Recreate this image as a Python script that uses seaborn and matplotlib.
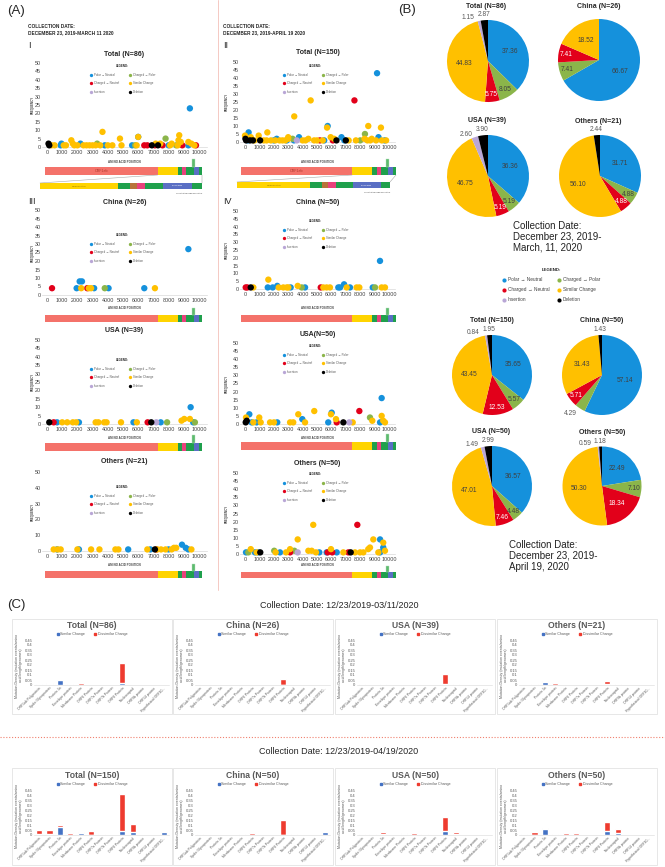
import numpy as np
import pandas as pd
import seaborn as sns
import matplotlib.pyplot as plt
from matplotlib.lines import Line2D
from matplotlib.patches import Patch, Rectangle, ConnectionPatch

sns.set_theme(style='white')
plt.rcParams['font.family'] = ['Liberation Sans', 'DejaVu Sans']

W, H = 665, 867

# mutation classes (legend order: column 1 then column 2)
class_codes = ['P', 'R', 'L', 'G', 'Y', 'K']
class_names = ['Polar → Neutral', 'Charged → Neutral', 'Insertion',
               'Charged → Polar', 'Similar Change', 'Deletion']
class_colors = ['#1591DC', '#E2001A', '#B9A6D6', '#8BB54A', '#FFC000', '#000000']
draw_rank = {'P': 0, 'G': 1, 'R': 2, 'Y': 3, 'L': 4, 'K': 5}

# ---- panel A: mutation frequency vs amino acid position ----
total86_pos = [100, 150, 300, 500, 900, 950, 1100, 1250, 1600, 1700, 1800, 2000, 2200, 2400, 2600, 2800,
               3000, 3200, 3300, 3500, 3650, 3800, 4000, 4300, 4800, 4900, 5600, 5800, 5900, 6000, 6000,
               6400, 6600, 6900, 7100, 7150, 7300, 7450, 7600, 7800, 8000, 8100, 8200, 8500, 8600, 8650,
               8700, 8800, 8900, 9300, 9300, 9400, 9500, 9700, 9800]
total86_freq = [2, 1, 1, 1, 1, 2, 1, 1, 4, 2, 1, 1, 2, 1, 1, 1, 1, 1, 2, 1, 9, 1, 1, 1, 5, 1, 1, 1, 1, 6, 6,
                1, 1, 1, 1, 2, 1, 2, 1, 5, 1, 1, 2, 1, 1, 4, 7, 3, 1, 1, 3, 23, 2, 1, 1]
total86_type = 'KKYYPPYYYYYYPYYYYYGYYPYYYYPGYPYRRKRYKYRGPYYGYYYYRPYPYYR'

china26_pos = [330, 1950, 2150, 2300, 2250, 2650, 2750, 2900, 3100, 3800, 4050, 6400, 7100, 9300]
china26_freq = [4, 4, 8, 8, 4, 4, 4, 4, 4, 4, 4, 4, 4, 27]
china26_type = 'RPPPYRYYPGPPYP'

usa39_pos = [150, 440, 660, 1000, 1330, 1700, 1920, 2100, 3200, 3380, 3760, 3920, 4870, 5690, 5910, 6620,
             6860, 7190, 7480, 7900, 8850, 9030, 9400, 9620, 9730, 9450]
usa39_freq = [1, 1, 1, 1, 1, 1, 1, 1, 1, 1, 1, 1, 1, 1, 1, 1, 1, 1, 1, 1, 2, 3, 3, 1, 1, 10]
usa39_type = 'KRPYYYYPYYYYYPYRKLPGYYYPGP'

others21_pos = [440, 660, 700, 900, 2000, 2100, 2900, 3450, 4500, 4700, 5340, 6600, 6800, 7100, 7200, 7250,
                7500, 7800, 8000, 8200, 8350, 8500, 8880, 9130, 9300, 9500]
others21_freq = [1, 1, 1, 1, 1, 1, 1, 1, 1, 1, 1, 1, 1, 1, 1, 1, 1, 1, 1, 1, 2, 2, 4, 2, 1, 1]
others21_type = 'YPYYYPYYYYPYPKRYYYPYYYPPPY'

total150_pos = [0, 30, 80, 200, 250, 350, 400, 550, 650, 950, 1050, 1300, 1500, 1550, 1800, 2000, 2100,
                2200, 2400, 2600, 2800, 2900, 3000, 3000, 3300, 3400, 3420, 3600, 3750, 4000, 4200, 4400,
                4560, 4800, 5000, 5200, 5400, 5500, 5740, 5700, 5950, 6100, 6200, 6350, 6700, 6900, 7000,
                7200, 7600, 7700, 8000, 8330, 8300, 8560, 8500, 8700, 8800, 9170, 9100, 9270, 9440, 9500,
                9700, 9800]
total150_freq = [4, 2, 1, 1, 6, 1, 3, 1, 1, 4, 1, 1, 1, 6, 1, 1, 1, 2, 1, 1, 1, 1, 2, 3, 2, 1, 16, 1, 3, 1,
                 1, 2, 26, 1, 1, 1, 1, 1, 10, 9, 3, 1, 2, 1, 3, 1, 1, 1, 26, 1, 1, 5, 2, 10, 1, 1, 2, 43,
                 1, 3, 9, 1, 1, 1]
total150_type = 'YKKPPKYKYYKYYYYPYPYYYPYYGPYLPYYYYYYRYPPYYRYKPPKYRYGGYYYYYPYPYYPY'

china50_pos = [50, 160, 400, 580, 1620, 1580, 1920, 2240, 2340, 2660, 2900, 3010, 3170, 3660, 3940, 4170,
               5260, 5440, 5670, 5900, 6480, 6600, 6880, 7060, 7290, 7750, 7940, 8870, 9030, 9490, 9720, 9375]
china50_freq = [1, 1, 1, 1, 6, 1, 1, 2, 1, 1, 1, 1, 1, 2, 1, 1, 1, 1, 1, 1, 1, 1, 3, 1, 1, 1, 1, 1, 1, 1, 1, 18]
china50_type = 'RRKYYPPPYYYYPYGPRYYYPPPYPYYPGYYP'

usa50_pos = [70, 300, 990, 3700, 3980, 4810, 6020, 5970, 120, 50, 460, 580, 810, 1090, 1740, 2010, 2240,
             3130, 3350, 4170, 5780, 6320, 6370, 6830, 7240, 7480, 7940, 8680, 8840, 9380, 9490, 9490,
             9720, 9600]
usa50_freq = [4, 6, 4, 6, 3, 8, 7, 6, 2, 1, 1, 1, 1, 1, 1, 1, 1, 1, 1, 1, 1, 3, 1, 1, 1, 1, 8, 4, 2, 1, 16,
              5, 1, 2]
usa50_type = 'YPYYPYPYKKPYPYYYPYYYPYRKLYRGYPPYYY'

others50_pos = [70, 230, 400, 690, 810, 920, 1060, 2030, 2130, 2430, 2850, 3130, 3130, 3430, 3660, 3660,
                4400, 4630, 4740, 4930, 5160, 5670, 5740, 6060, 5970, 6370, 6830, 7180, 7340, 7640, 7800,
                7990, 8220, 8560, 8680, 8910, 9260, 9380, 9380, 9600, 9600, 9720]
others50_freq = [1, 1, 3, 1, 1, 1, 1, 2, 1, 1, 1, 1, 3, 2, 9, 1, 2, 2, 18, 1, 1, 1, 1, 1, 3, 1, 1, 1, 1, 1,
                 18, 1, 1, 3, 4, 9, 1, 9, 1, 7, 4, 2]
others50_type = 'PGYPYPKGYPYRYGYLYYYYPPRRYPYRKYRYYYYYYPPYPY'

# genome map under each scatter
genome_parts = ['ORF1ab', 'S', 'ORF3a', 'E/M', 'ORF6-8', 'N', 'ORF10']
genome_len = [7096, 1273, 300, 250, 450, 360, 170]
genome_colors = ['#F4726A', '#FFD400', '#1FA04C', '#E8417C', '#1FA04C', '#5A6FC4', '#1FA04C']
marker_pos = 9350
zoom_parts = ['Spike Protein', 'ORF3a', 'E', 'M', 'ORF6', 'ORF7', 'Nucleocapsid', 'ORF10']
zoom_len = [1273, 200, 115, 130, 150, 150, 475, 165]
zoom_colors = ['#FFD400', '#1FA04C', '#B8733A', '#E8417C', '#1FA04C', '#1FA04C', '#5A6FC4', '#1FA04C']

# ---- panel B: pie shares (%) ----
pie_colors = ['#1591DC', '#8BB54A', '#E2001A', '#FFC000', '#B9A6D6', '#000000']
pie_total86 = [37.36, 8.05, 5.75, 44.83, 1.15, 2.87]
pie_china26 = [66.67, 7.41, 7.41, 18.52, 0, 0]
pie_usa39 = [36.36, 5.19, 5.19, 46.75, 2.60, 3.90]
pie_others21 = [31.71, 4.88, 4.88, 56.10, 0, 2.44]
pie_total150 = [35.65, 5.57, 12.53, 43.45, 0.84, 1.95]
pie_china50 = [57.14, 4.29, 5.71, 31.43, 0, 1.43]
pie_usa50 = [36.57, 4.48, 7.46, 47.01, 1.49, 2.99]
pie_others50 = [22.49, 7.10, 18.34, 50.30, 0.59, 1.18]

# ---- panel C: mutation density per protein ----
bar_cats = ['ORF1ab Polyprotein', 'Spike Glycoprotein', 'Protein 3a', 'Envelope protein',
            'Membrane Protein', 'ORF6 Protein', 'ORF7a Protein', 'ORF7b Protein', 'ORF8 Protein',
            'Nucleocapsid', 'ORF9b protein', 'ORF14 protein', 'Hypothetical ORF10...']
t86_sim = [0.006, 0.008, 0.048, 0.004, 0.002, 0, 0, 0, 0.025, 0, 0, 0, 0]
t86_dis = [0.008, 0.013, 0.005, 0.010, 0.016, 0, 0, 0, 0.197, 0, 0, 0, 0]
c26_sim = [0, 0, 0, 0, 0, 0, 0, 0, 0, 0, 0, 0, 0]
c26_dis = [0.003, 0, 0, 0, 0, 0, 0, 0, 0.057, 0.004, 0, 0, 0]
u39_sim = [0.002, 0, 0.006, 0, 0, 0, 0, 0, 0.012, 0, 0, 0, 0]
u39_dis = [0.006, 0.003, 0, 0, 0, 0, 0, 0, 0.102, 0.012, 0, 0, 0]
o21_sim = [0.002, 0, 0.035, 0, 0, 0, 0, 0, 0.006, 0, 0, 0, 0]
o21_dis = [0.002, 0.008, 0.006, 0.016, 0, 0, 0, 0, 0.034, 0.006, 0, 0, 0]
t150_sim = [0.015, 0.012, 0.077, 0.003, 0.025, 0.005, 0, 0, 0.044, 0.035, 0, 0, 0.030]
t150_dis = [0.032, 0.035, 0.027, 0.017, 0.009, 0.035, 0.013, 0, 0.372, 0.082, 0, 0, 0.004]
c50_sim = [0, 0, 0.004, 0, 0, 0, 0, 0, 0, 0, 0, 0, 0.030]
c50_dis = [0.006, 0.004, 0, 0, 0.006, 0.023, 0, 0, 0.154, 0.006, 0, 0, 0.004]
u50_sim = [0.005, 0, 0.012, 0, 0.012, 0, 0, 0, 0.040, 0.015, 0, 0, 0]
u50_dis = [0.010, 0.008, 0.018, 0, 0.004, 0.023, 0.010, 0, 0.145, 0.019, 0, 0, 0]
o50_sim = [0.006, 0.005, 0.062, 0, 0.005, 0, 0, 0, 0.040, 0.020, 0, 0, 0]
o50_dis = [0.009, 0.025, 0.012, 0.015, 0.012, 0.020, 0, 0, 0.088, 0.040, 0, 0, 0]

SIM_BLUE = '#4472C4'
DIS_RED = '#EE3B2F'


def px_rect(x0, y0, x1, y1):
    return [x0 / W, 1 - y1 / H, (x1 - x0) / W, (y1 - y0) / H]


def ftext(x, y, s, **kw):
    return fig.text(x / W, 1 - y / H, s, **kw)


def class_handles(ms):
    return [Line2D([], [], marker='o', linestyle='', markersize=ms,
                   markerfacecolor=c, markeredgewidth=0) for c in class_colors]


fig = plt.figure(figsize=(W / 100, H / 100), dpi=100)
fig.patch.set_facecolor('white')

# background layer in pixel coordinates (frames and separators)
bg = fig.add_axes([0, 0, 1, 1])
bg.set_xlim(0, W)
bg.set_ylim(H, 0)
bg.axis('off')
bg.plot([218, 218], [0, 590], color='#F5C9C3', lw=0.7)
bg.plot([0, W], [737, 737], color='#F0806E', lw=0.8, linestyle=(0, (1, 1.6)))

# ---------------- panel A ----------------
ftext(7, 11, '(A)', fontsize=9.5, va='center', ha='left')
for x0, date in [(28, 'DECEMBER 23, 2019-MARCH 11 2020'), (223, 'DECEMBER 23, 2019-APRIL 19 2020')]:
    ftext(x0, 26, 'COLLECTION DATE:', fontsize=3.4, fontweight='bold', va='center')
    ftext(x0, 33, date, fontsize=3.4, fontweight='bold', va='center')
for x0, y0, s in [(28, 45, 'I'), (223, 45, 'II'), (28, 201, 'III'), (223, 201, 'IV')]:
    ftext(x0, y0, s, fontsize=6.5, va='center')

COLS = {'L': dict(zero=47, ppu=0.0152, x0=42, x1=207, gx0=45, gx1=202, ylab=33),
        'R': dict(zero=245, ppu=0.0144, x0=240, x1=395, gx0=241, gx1=396, ylab=227)}


def genome_bar(col, ytop, ybot, label=False):
    c = COLS[col]
    h = ybot - ytop
    ax = fig.add_axes(px_rect(c['gx0'], ytop - h - 1, c['gx1'], ybot))
    starts = np.concatenate([[0], np.cumsum(genome_len)[:-1]])
    ax.barh(0.5, genome_len, left=starts, height=1, color=genome_colors, linewidth=0)
    ax.bar(marker_pos, 1.05, bottom=1, width=190, color='#5DBB6E', edgecolor='#B5E0BF', linewidth=0.3)
    ax.set_xlim(0, sum(genome_len))
    ax.set_ylim(0, (2 * h + 1) / h)
    ax.axis('off')
    if label:
        ax.text(starts[0] + genome_len[0] / 2, 0.5, 'ORF1ab', ha='center', va='center',
                fontsize=2.6, color='#B03A2E')
    return ax, starts


def zoom_bar(top_ax, starts, x0, x1, ytop, ybot):
    ax = fig.add_axes(px_rect(x0, ytop, x1, ybot))
    zs = np.concatenate([[0], np.cumsum(zoom_len)[:-1]])
    ax.barh(0.5, zoom_len, left=zs, height=1, color=zoom_colors, linewidth=0)
    ax.set_xlim(0, sum(zoom_len))
    ax.set_ylim(0, 1)
    ax.axis('off')
    ax.text(zoom_len[0] / 2, 0.5, zoom_parts[0], ha='center', va='center', fontsize=1.6, color='#7A5C00')
    ax.text(zs[6] + zoom_len[6] / 2, 0.5, zoom_parts[6], ha='center', va='center', fontsize=1.4, color='white')
    ax.text(sum(zoom_len), -0.75, 'Hypothetical ORF10 Protein', ha='right', va='center', fontsize=1.5,
            color='#404040')
    for xa, xb in [(starts[1], 0), (sum(genome_len), sum(zoom_len))]:
        con = ConnectionPatch(xyA=(xa, 0), coordsA=top_ax.transData, xyB=(xb, 1),
                              coordsB=ax.transData, color='#A8A8A8', lw=0.4)
        fig.add_artist(con)


def scatter_panel(col, pos, freq, types, y50, y0, ystep, title, title_y, leg_y,
                  gtop, gbot, amino_y, big=False):
    c = COLS[col]
    k = (y0 - y50) / 50
    lo, hi = -2, 51
    top = y50 - (hi - 50) * k
    bot = y0 - lo * k
    ax = fig.add_axes(px_rect(c['x0'], top, c['x1'], bot))
    ax.patch.set_alpha(0)
    df = pd.DataFrame({'pos': pos, 'freq': freq, 'code': list(types)})
    df['rank'] = df['code'].map(draw_rank)
    df = df.sort_values('rank', kind='stable')
    df['type'] = df['code'].map(dict(zip(class_codes, class_names)))
    sns.scatterplot(data=df, x='pos', y='freq', hue='type', palette=dict(zip(class_names, class_colors)),
                    s=21, linewidth=0, legend=False, ax=ax, zorder=3)
    ax.set_xlim((c['x0'] - c['zero']) / c['ppu'], (c['x1'] - c['zero']) / c['ppu'])
    ax.set_ylim(lo, hi)
    ax.set_xticks(range(0, 10001, 1000))
    ax.set_yticks(range(0, 51, ystep))
    ax.set_xlabel('')
    ax.set_ylabel('')
    for s in ['top', 'right', 'left']:
        ax.spines[s].set_visible(False)
    ax.spines['bottom'].set_position(('data', 0))
    ax.spines['bottom'].set_color('#D9D9D9')
    ax.spines['bottom'].set_linewidth(0.5)
    ax.tick_params(axis='both', length=0, labelsize=3.9, colors='#404040')
    ax.tick_params(axis='x', pad=2.2)
    ax.tick_params(axis='y', pad=1.0)
    ftext((c['x0'] + c['x1']) / 2, title_y, title, ha='center', va='center', fontsize=5, fontweight='bold')
    ftext(c['ylab'], (y50 + y0) / 2, 'FREQUENCY', rotation=90, ha='center', va='center',
          fontsize=2.1, fontweight='bold', color='#404040')
    ftext((c['x0'] + c['x1']) / 2, amino_y, 'AMINO ACID POSITION', ha='center', va='center',
          fontsize=2.1, fontweight='bold', color='#404040')
    lx = (c['x0'] + c['x1']) / 2 - 2
    ax.legend(class_handles(2.4), class_names, ncol=2, loc='upper center',
              bbox_to_anchor=(lx / W, 1 - (leg_y - 2) / H), bbox_transform=fig.transFigure,
              frameon=False, fontsize=2.1, labelcolor='#595959', title='LEGEND:',
              title_fontproperties={'weight': 'bold', 'size': 2.1}, handlelength=0.8,
              handletextpad=0.6, columnspacing=3.2, labelspacing=1.5, borderpad=0)
    gax, starts = genome_bar(col, gtop, gbot, label=big)
    if big:
        if col == 'L':
            zoom_bar(gax, starts, 40, 202, 183, 189)
        else:
            zoom_bar(gax, starts, 237, 390, 182, 188)


scatter_panel('L', total86_pos, total86_freq, total86_type, 63, 147, 5, 'Total (N=86)', 54, 65,
              167, 175, 162, big=True)
scatter_panel('L', china26_pos, china26_freq, china26_type, 210, 295, 5, 'China (N=26)', 202, 234,
              315, 322, 308)
scatter_panel('L', usa39_pos, usa39_freq, usa39_type, 340, 424, 5, 'USA (N=39)', 330, 359,
              443, 451, 438)
scatter_panel('L', others21_pos, others21_freq, others21_type, 472, 551, 10, 'Others (N=21)', 462, 486,
              571, 578, 565)
scatter_panel('R', total150_pos, total150_freq, total150_type, 62, 142, 5, 'Total (N=150)', 53, 65,
              167, 175, 162, big=True)
scatter_panel('R', china50_pos, china50_freq, china50_type, 211, 289, 5, 'China (N=50)', 203, 220,
              315, 322, 308)
scatter_panel('R', usa50_pos, usa50_freq, usa50_type, 343, 424, 5, 'USA(N=50)', 334, 345,
              442, 450, 438)
scatter_panel('R', others50_pos, others50_freq, others50_type, 473, 554, 5, 'Others (N=50)', 464, 473,
              572, 578, 565)

# ---------------- panel B ----------------
ftext(398, 10, '(B)', fontsize=9.5, va='center', ha='left')


def pie_panel(values, cx, cy, r, title, tx, ty):
    ax = fig.add_axes(px_rect(cx - r, cy - r, cx + r, cy + r))
    wedges, _ = ax.pie(values, colors=pie_colors, startangle=90, counterclock=False,
                       radius=1, wedgeprops=dict(linewidth=0))
    ax.set_xlim(-1, 1)
    ax.set_ylim(-1, 1)
    half_w = 6.8 / r  # half width of a small label, in radius units
    black_x = None
    mids = [np.deg2rad((w.theta1 + w.theta2) / 2) for w in wedges]
    if values[5] > 0:
        black_x = 1.16 * np.cos(mids[5])
    for w, mid, v, col in zip(wedges, mids, values, pie_colors):
        if v <= 0:
            continue
        cs, sn = np.cos(mid), np.sin(mid)
        if v < 4.4:
            x, y = 1.16 * cs, 1.16 * sn
            if col == '#B9A6D6':
                ha = 'right'
                x = (black_x - half_w - 0.06) if black_x is not None else x - 0.1
                y = y - 0.08
            elif col == '#000000':
                ha = 'center'
                y = 1.14 * sn
            else:
                ha = 'right' if cs < -0.15 else ('left' if cs > 0.15 else 'center')
            ax.text(x, y, f'{v:.2f}', ha=ha, va='center', fontsize=4.8, color='#595959')
        else:
            rr = 0.82 if v < 15 else 0.58
            tc = 'white' if col == '#E2001A' else '#404040'
            ax.text(rr * cs, rr * sn, f'{v:.2f}', ha='center', va='center', fontsize=4.8, color=tc)
    ftext(tx, ty, title, ha='center', va='center', fontsize=5, fontweight='bold')


pie_panel(pie_total86, 488, 61, 41, 'Total (N=86)', 486, 6)
pie_panel(pie_china26, 599, 60, 41, 'China (N=26)', 599, 6)
pie_panel(pie_usa39, 488, 176, 41, 'USA (N=39)', 487, 120)
pie_panel(pie_others21, 600, 176, 41, 'Others (N=21)', 598, 121)
pie_panel(pie_total150, 492, 375, 40, 'Total (N=150)', 492, 320)
pie_panel(pie_china50, 602, 375, 40, 'China (N=50)', 602, 320.5)
pie_panel(pie_usa50, 492, 486, 40, 'USA (N=50)', 491, 431.5)
pie_panel(pie_others50, 602, 486, 39.5, 'Others (N=50)', 602, 432)

ftext(513, 221, 'Collection Date:\nDecember 23, 2019-\nMarch, 11, 2020', fontsize=7, va='top',
      ha='left', linespacing=1.1, color='#222222')
ftext(509, 540, 'Collection Date:\nDecember 23, 2019-\nApril 19, 2020', fontsize=7, va='top',
      ha='left', linespacing=1.1, color='#222222')
fig.legend(class_handles(3.0), class_names, ncol=2, loc='upper center',
           bbox_to_anchor=(551 / W, 1 - 266 / H), frameon=False, fontsize=3.4, labelcolor='#404040',
           title='LEGEND:', title_fontproperties={'weight': 'bold', 'size': 3.2},
           handlelength=0.8, handletextpad=0.5, columnspacing=1.6, labelspacing=1.05, borderpad=0)

# ---------------- panel C ----------------
ftext(7, 605, '(C)', fontsize=9.5, va='center', ha='left')
ftext(339, 606, 'Collection Date: 12/23/2019-03/11/2020', fontsize=6.5, ha='center', va='center')
ftext(339, 751, 'Collection Date: 12/23/2019-04/19/2020', fontsize=6.5, ha='center', va='center')


def bar_panel(sim, dis, bx, by0, by1, y45, y0, title, title_y, leg_y):
    bg.add_patch(Rectangle((bx, by0), 160, by1 - by0, fill=False, edgecolor='#E3E3E3', lw=0.6))
    ax = fig.add_axes(px_rect(bx + 22, y45, bx + 157, y0))
    ax.patch.set_alpha(0)
    df = pd.DataFrame({'cat': bar_cats, 'sim': sim, 'tot': np.array(sim) + np.array(dis)})
    sns.barplot(data=df, x='cat', y='tot', color=DIS_RED, saturation=1, width=0.6, errorbar=None, ax=ax)
    sns.barplot(data=df, x='cat', y='sim', color=SIM_BLUE, saturation=1, width=0.6, errorbar=None, ax=ax)
    ax.set_xlim(-0.5, len(bar_cats) - 0.5)
    ax.set_ylim(0, 0.45)
    ticks = np.round(np.arange(0, 0.451, 0.05), 2)
    ax.set_yticks(ticks)
    ax.set_yticklabels(['0' if t == 0 else f'{t:g}' for t in ticks])
    ax.set_xticks(range(len(bar_cats)))
    ax.set_xticklabels(bar_cats, rotation=45, ha='right', rotation_mode='anchor')
    ax.set_xlabel('')
    ax.set_ylabel('')
    for s in ['top', 'right', 'left']:
        ax.spines[s].set_visible(False)
    ax.spines['bottom'].set_color('#D9D9D9')
    ax.spines['bottom'].set_linewidth(0.4)
    ax.tick_params(axis='both', length=0, colors='#595959')
    ax.tick_params(axis='y', labelsize=3.0, pad=1.0)
    ax.tick_params(axis='x', labelsize=2.4, pad=1.0)
    ftext(bx + 80, title_y, title, ha='center', va='center', fontsize=6.2, fontweight='bold',
          color='#595959')
    ftext(bx + 7, (y45 + y0) / 2 + 3, 'Mutation Density (mutation events/amino\nacid length/genomes)',
          rotation=90, ha='center', va='center', fontsize=2.5, color='#595959', multialignment='center')
    ax.legend([Patch(color=SIM_BLUE), Patch(color=DIS_RED)], ['Similar Change', 'Dissimilar Change'],
              ncol=2, loc='center', bbox_to_anchor=((bx + 80) / W, 1 - leg_y / H),
              bbox_transform=fig.transFigure, frameon=False, fontsize=2.6, labelcolor='#595959',
              handlelength=0.6, handleheight=0.6, handletextpad=0.4, columnspacing=2.5, borderpad=0)


box_x = [12, 173, 335, 497]
top_sets = [(t86_sim, t86_dis, 'Total (N=86)'), (c26_sim, c26_dis, 'China (N=26)'),
            (u39_sim, u39_dis, 'USA (N=39)'), (o21_sim, o21_dis, 'Others (N=21)')]
bot_sets = [(t150_sim, t150_dis, 'Total (N=150)'), (c50_sim, c50_dis, 'China (N=50)'),
            (u50_sim, u50_dis, 'USA (N=50)'), (o50_sim, o50_dis, 'Others (N=50)')]
for bx, (s, d, t) in zip(box_x, top_sets):
    bar_panel(s, d, bx, 619, 714, 640, 685, t, 625, 634)
for bx, (s, d, t) in zip(box_x, bot_sets):
    bar_panel(s, d, bx, 768, 865, 791, 835, t, 775, 784)

fig.savefig('out.png', dpi=100)
